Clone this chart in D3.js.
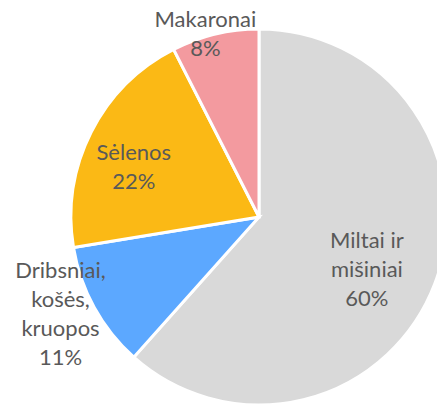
<!DOCTYPE html>
<html>
<head>
<meta charset="utf-8">
<script src="https://cdn.jsdelivr.net/npm/d3@7"></script>
<style>
  html, body { margin: 0; padding: 0; background: #fff; }
  svg { display: block; }
</style>
</head>
<body>
<svg id="chart" width="437" height="404"></svg>
<script>
const categories = ["Miltai ir mišiniai", "Dribsniai, košės, kruopos", "Sėlenos", "Makaronai"];
const values = [61.6, 10.8, 20.1, 7.5];
const percentLabels = ["60%", "11%", "22%", "8%"];
const labelLines = [["Miltai ir", "mišiniai"], ["Dribsniai,", "košės,", "kruopos"], ["Sėlenos"], ["Makaronai"]];
const colors = ["#D9D9D9", "#5CA8FF", "#FBB915", "#F39A9F"];

// Layout
const W = 437, H = 404;
const cx = 259, cy = 217, R = 188;
const lineH = 29;
// label placement: radius and angle offset (degrees) relative to slice middle
const labelPlace = [
  { r: 121, dA: 6 },
  { r: 222, dA: 2.2 },
  { r: 134, dA: -6 },
  { r: 189, dA: -3 }
];

const svg = d3.select("#chart");
const g = svg.append("g").attr("transform", `translate(${cx},${cy})`);

const pie = d3.pie().sort(null).value(d => d).startAngle(0).endAngle(2 * Math.PI);
const arcs = pie(values);
const arc = d3.arc().innerRadius(0).outerRadius(R);

g.selectAll("path.slice")
  .data(arcs)
  .join("path")
  .attr("class", "slice")
  .attr("d", arc)
  .attr("fill", (d, i) => colors[i])
  .attr("stroke", "#fff")
  .attr("stroke-width", 3)
  .attr("stroke-linejoin", "miter");

const labels = g.selectAll("text.lbl")
  .data(arcs)
  .join("text")
  .attr("class", "lbl")
  .attr("text-anchor", "middle")
  .attr("font-family", "Lato, 'Open Sans', sans-serif")
  .attr("font-size", 22)
  .attr("fill", "#595959")
  .each(function (d, i) {
    const mid = (d.startAngle + d.endAngle) / 2 + labelPlace[i].dA * Math.PI / 180;
    const r = labelPlace[i].r;
    const x = r * Math.sin(mid);
    const y = -r * Math.cos(mid);
    const lines = labelLines[i].concat([percentLabels[i]]);
    const n = lines.length;
    const t = d3.select(this);
    lines.forEach((ln, k) => {
      t.append("tspan")
        .attr("x", x)
        .attr("y", y + (k - (n - 1) / 2) * lineH + 5.5)
        .text(ln);
    });
  });
</script>
</body>
</html>
